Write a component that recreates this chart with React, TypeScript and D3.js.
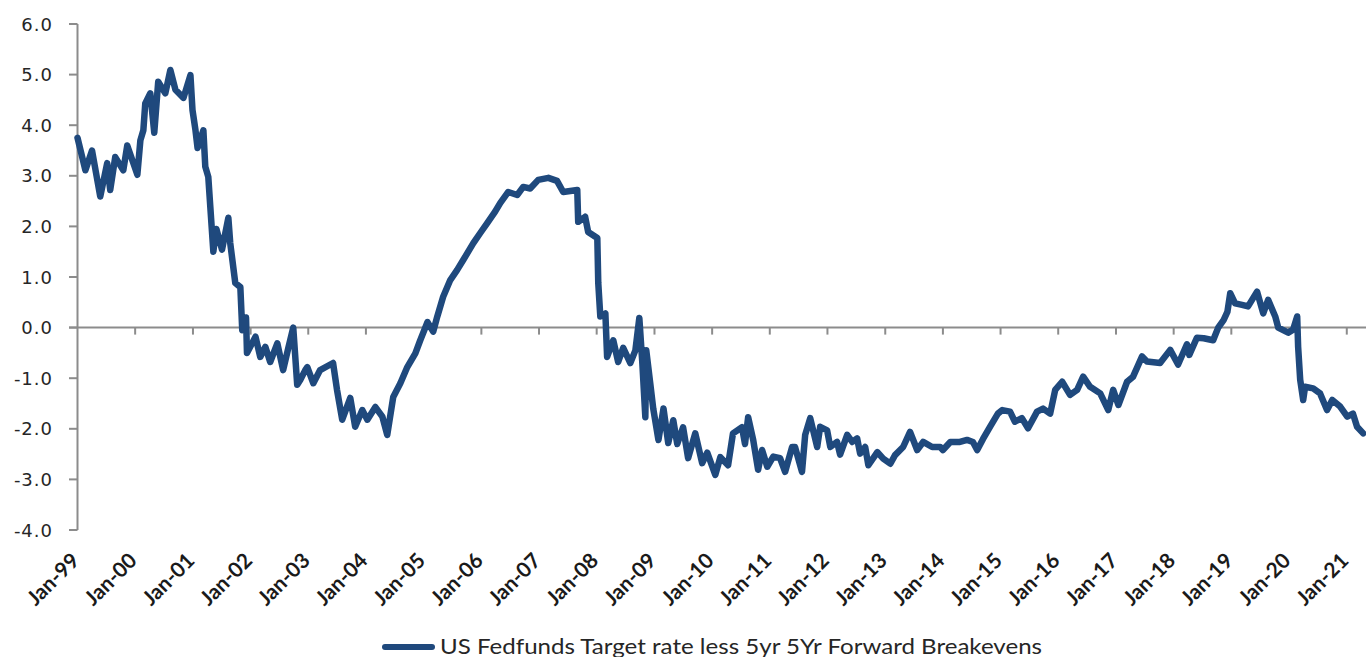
import React from 'react';
import * as d3 from 'd3';

const obsDates = [
  '1999-01-01', '1999-02-20', '1999-04-03', '1999-05-25', '1999-07-08', '1999-07-27', '1999-08-28', '1999-10-18', '1999-11-12',
  '2000-01-15', '2000-02-03', '2000-02-22', '2000-03-05', '2000-04-06', '2000-05-01', '2000-05-26', '2000-07-10', '2000-08-11',
  '2000-09-12', '2000-11-02', '2000-12-16', '2000-12-29',
  '2001-01-17', '2001-01-30', '2001-03-08', '2001-03-20', '2001-04-08', '2001-04-21', '2001-05-10', '2001-05-29', '2001-07-04',
  '2001-08-13', '2001-08-25', '2001-09-26', '2001-10-28', '2001-11-09', '2001-12-03', '2001-12-09',
  '2002-02-01', '2002-03-03', '2002-04-04', '2002-05-05', '2002-06-19', '2002-07-26', '2002-08-28', '2002-09-28', '2002-10-23',
  '2002-11-12', '2002-12-13', '2002-12-26',
  '2003-02-02', '2003-03-17', '2003-06-07', '2003-07-02', '2003-08-04', '2003-09-24', '2003-10-25', '2003-12-09',
  '2004-01-10', '2004-03-01', '2004-04-14', '2004-05-15', '2004-06-22', '2004-08-06', '2004-09-19', '2004-11-09', '2004-12-10',
  '2005-01-25', '2005-03-02', '2005-03-28', '2005-05-04', '2005-06-18', '2005-08-01', '2005-09-09', '2005-11-11', '2005-12-25',
  '2006-02-08', '2006-03-29', '2006-04-30', '2006-06-20', '2006-08-16', '2006-09-23', '2006-11-06', '2006-12-27',
  '2007-03-01', '2007-04-25', '2007-06-03', '2007-08-31', '2007-09-06', '2007-10-20', '2007-11-08',
  '2008-01-05', '2008-01-11', '2008-01-24', '2008-02-25', '2008-03-07', '2008-04-15', '2008-05-16', '2008-06-17', '2008-08-01',
  '2008-09-02', '2008-09-27', '2008-10-16', '2008-11-04', '2008-11-10', '2008-12-05', '2008-12-24',
  '2009-01-26', '2009-02-27', '2009-03-29', '2009-04-30', '2009-05-25', '2009-07-01', '2009-08-02', '2009-09-16', '2009-10-30',
  '2009-12-01',
  '2010-01-21', '2010-02-22', '2010-04-12', '2010-05-13', '2010-07-09', '2010-07-28', '2010-08-17', '2010-09-18', '2010-10-19',
  '2010-11-13', '2010-12-16',
  '2011-01-23', '2011-03-07', '2011-04-08', '2011-05-22', '2011-06-10', '2011-07-24', '2011-08-13', '2011-09-14', '2011-10-28',
  '2011-11-16', '2011-12-30',
  '2012-01-19', '2012-03-02', '2012-03-21', '2012-05-05', '2012-06-06', '2012-07-07', '2012-07-26', '2012-08-27', '2012-09-16',
  '2012-11-12', '2012-12-19',
  '2013-02-02', '2013-03-04', '2013-04-24', '2013-06-07', '2013-07-22', '2013-08-29', '2013-10-25', '2013-12-15',
  '2014-01-01', '2014-02-17', '2014-04-19', '2014-06-03', '2014-07-10', '2014-08-06', '2014-09-12', '2014-10-28', '2014-12-15',
  '2015-01-12', '2015-03-02', '2015-04-02', '2015-05-16', '2015-06-24', '2015-08-20', '2015-09-27', '2015-11-11', '2015-12-13',
  '2016-01-26', '2016-03-16', '2016-04-30', '2016-06-07', '2016-07-21', '2016-09-23', '2016-11-13', '2016-12-14',
  '2017-01-16', '2017-03-12', '2017-04-19', '2017-06-15', '2017-07-16', '2017-10-07', '2017-12-10',
  '2018-01-29', '2018-03-26', '2018-04-10', '2018-05-28', '2018-07-10', '2018-09-08', '2018-10-10', '2018-11-13', '2018-12-07',
  '2018-12-25',
  '2019-01-25', '2019-03-10', '2019-04-17', '2019-06-13', '2019-07-22', '2019-08-22', '2019-10-06', '2019-10-25', '2019-12-27',
  '2020-01-27', '2020-02-22', '2020-02-28', '2020-03-12', '2020-03-31', '2020-04-12', '2020-06-02', '2020-07-16', '2020-08-29',
  '2020-10-01', '2020-11-20',
  '2021-01-04', '2021-02-09', '2021-03-07', '2021-04-15',
];

const spreadValues = [
  3.75, 3.11, 3.5, 2.59, 3.25, 2.72, 3.37, 3.11, 3.6,
  3.02, 3.7, 3.9, 4.43, 4.63, 3.85, 4.86, 4.63, 5.09,
  4.7, 4.54, 4.99, 4.3,
  3.9, 3.55, 3.9, 3.18, 2.98, 2.38, 1.5, 1.95, 1.54,
  2.17, 1.67, 0.88, 0.8, -0.05, 0.2, -0.5,
  -0.18, -0.58, -0.38, -0.68, -0.31, -0.84, -0.4, 0.0, -1.13,
  -1.03, -0.84, -0.78,
  -1.1, -0.84, -0.7, -1.23, -1.82, -1.39, -1.96, -1.63,
  -1.82, -1.57, -1.76, -2.12, -1.37, -1.1, -0.78, -0.51, -0.25,
  0.11, -0.08, 0.22, 0.61, 0.94, 1.14, 1.34, 1.67, 1.87,
  2.07, 2.29, 2.46, 2.68, 2.62, 2.78, 2.75, 2.92,
  2.96, 2.9, 2.68, 2.72, 2.09, 2.19, 1.89,
  1.77, 0.88, 0.22, 0.28, -0.58, -0.25, -0.68, -0.4, -0.7,
  -0.45, 0.19, -0.7, -1.77, -0.45, -1.1, -1.6,
  -2.22, -1.6, -2.28, -1.83, -2.3, -1.97, -2.58, -2.09, -2.68,
  -2.47,
  -2.91, -2.56, -2.72, -2.09, -1.97, -2.3, -1.77, -2.22, -2.81,
  -2.42, -2.75,
  -2.55, -2.58, -2.85, -2.36, -2.36, -2.85, -2.12, -1.79, -2.36,
  -1.96, -2.03,
  -2.36, -2.26, -2.51, -2.12, -2.26, -2.19, -2.49, -2.36, -2.72,
  -2.46, -2.59,
  -2.69, -2.52, -2.36, -2.06, -2.42, -2.26, -2.36, -2.36,
  -2.42, -2.26, -2.26, -2.22, -2.26, -2.42, -2.2, -1.95, -1.7,
  -1.63, -1.66, -1.86, -1.79, -1.99, -1.66, -1.6, -1.7, -1.23,
  -1.07, -1.33, -1.23, -0.97, -1.17, -1.3, -1.63, -1.23,
  -1.53, -1.07, -0.97, -0.57, -0.67, -0.7, -0.44,
  -0.73, -0.33, -0.54, -0.2, -0.21, -0.25, 0.0, 0.15, 0.31,
  0.68,
  0.48, 0.45, 0.42, 0.71, 0.28, 0.55, 0.22, 0.0, -0.1,
  -0.04, 0.22, -0.38, -1.03, -1.43, -1.17, -1.2, -1.3, -1.63,
  -1.43, -1.56,
  -1.76, -1.7, -1.96, -2.09,
];

const yTicks = [-4, -3, -2, -1, 0, 1, 2, 3, 4, 5, 6];
const xTickYears = d3.range(1999, 2022);
const seriesName = 'US Fedfunds Target rate less 5yr 5Yr Forward Breakevens';

const W = 1366, H = 657;
const lineColor = '#1f497d';
const axisColor = '#8c8c8c';

export default function App() {
  const parse = d3.timeParse('%Y-%m-%d');
  const data = obsDates.map((d, i) => ({ date: parse(d) as Date, value: spreadValues[i] }));

  const x = d3.scaleTime()
    .domain([new Date(1999, 0, 1), new Date(2021, 3, 20)])
    .range([77.5, 1364]);
  const y = d3.scaleLinear().domain([-4, 6]).range([530, 24]);

  const line = d3.line<{ date: Date; value: number }>()
    .x(d => x(d.date))
    .y(d => y(d.value));

  const fmt = d3.timeFormat('%b-%y');
  const y0 = y(0);

  return (
    <svg width={W} height={H} style={{ position: 'absolute', left: 0, top: 0, background: '#fff' }}>
      {/* y axis */}
      <line x1={77.5} x2={77.5} y1={y(6)} y2={y(-4)} stroke={axisColor} strokeWidth={2} />
      {yTicks.map(t => (
        <g key={t}>
          <line x1={69} x2={77.5} y1={y(t)} y2={y(t)} stroke={axisColor} strokeWidth={2} />
          <text x={53} y={y(t) + 6.5} textAnchor="end" fontFamily="DejaVu Sans" fontSize={18}
            letterSpacing={1} fill="#262626">{t.toFixed(1)}</text>
        </g>
      ))}
      {/* zero line with year ticks */}
      <line x1={69} x2={W} y1={y0} y2={y0} stroke={axisColor} strokeWidth={2} />
      {xTickYears.map(yr => {
        const tx = x(new Date(yr, 0, 1));
        return (
          <g key={yr}>
            {yr > 1999 && <line x1={tx} x2={tx} y1={y0} y2={y0 + 7} stroke={axisColor} strokeWidth={2} />}
            <text transform={`translate(${tx + 3},${562}) rotate(-45)`} textAnchor="end"
              fontFamily="Lato" fontWeight={700} fontSize={21} fill="#1a1a1a">
              {fmt(new Date(yr, 0, 1))}
            </text>
          </g>
        );
      })}
      {/* series */}
      <path d={line(data) || ''} fill="none" stroke={lineColor} strokeWidth={6.5}
        strokeLinejoin="round" strokeLinecap="round" />
      {/* legend */}
      <line x1={385} x2={432} y1={647} y2={647} stroke={lineColor} strokeWidth={6} strokeLinecap="round" />
      <text x={440} y={654} fontFamily="Lato" fontSize={21} fill="#262626"
        textLength={602} lengthAdjust="spacingAndGlyphs">{seriesName}</text>
    </svg>
  );
}
